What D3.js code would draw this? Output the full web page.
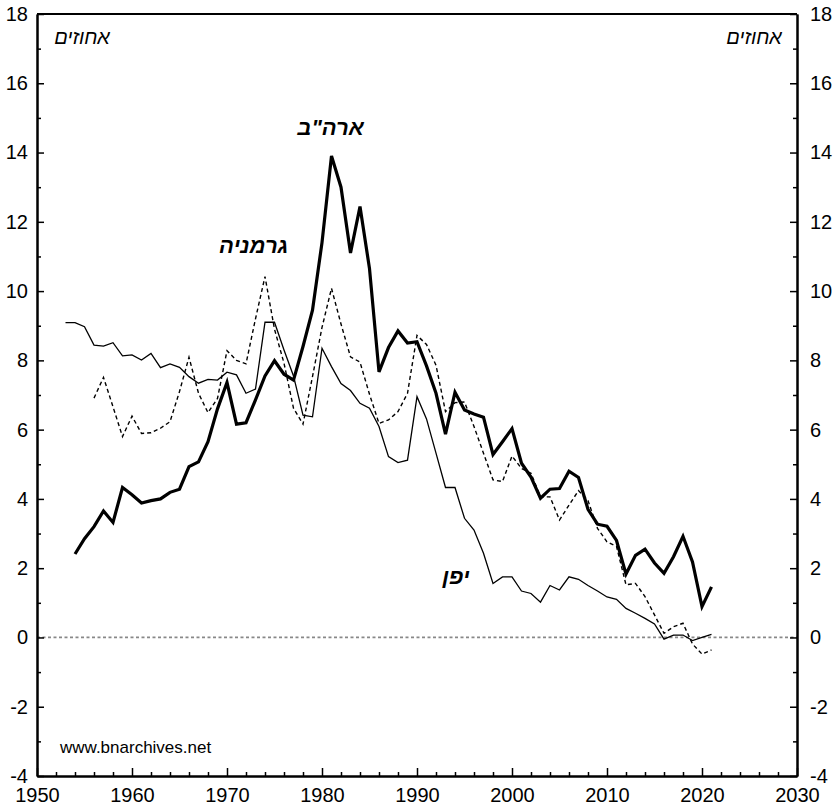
<!DOCTYPE html>
<html>
<head>
<meta charset="utf-8">
<script src="https://cdn.jsdelivr.net/npm/d3@7"></script>
<style>
  body { margin: 0; background: #fff; }
  svg { display: block; font-family: "Liberation Sans", Arial, sans-serif; }
</style>
</head>
<body>
<svg id="chart" width="839" height="811"></svg>
<script>
// series: first year + yearly values (percent)
const usaStart = 1954;
const usaValues = [
  2.41, 2.85, 3.2, 3.65, 3.32, 4.33,
  4.12, 3.88, 3.95, 4.0, 4.19, 4.28, 4.93, 5.07, 5.65, 6.6,
  7.36, 6.16, 6.2, 6.86, 7.55, 7.99, 7.6, 7.43, 8.4, 9.45,
  11.4, 13.9, 13.0, 11.1, 12.44, 10.65, 7.67, 8.37, 8.85, 8.5,
  8.54, 7.84, 7.05, 5.87, 7.08, 6.57, 6.45, 6.36, 5.28, 5.65,
  6.03, 5.03, 4.63, 4.02, 4.28, 4.3, 4.8, 4.62, 3.7, 3.27,
  3.21, 2.8, 1.83, 2.37, 2.55, 2.15, 1.85, 2.33, 2.92, 2.18,
  0.89, 1.46
];

const germanyStart = 1956;
const germanyValues = [
  6.91, 7.51, 6.66, 5.8,
  6.39, 5.89, 5.91, 6.04, 6.23, 7.1, 8.09, 7.05, 6.49, 6.9,
  8.28, 8.0, 7.9, 9.2, 10.42, 8.9, 7.92, 6.62, 6.16, 7.53,
  8.95, 10.08, 9.05, 8.1, 7.95, 7.02, 6.18, 6.28, 6.52, 7.05,
  8.72, 8.46, 7.86, 6.52, 6.78, 6.8, 6.09, 5.32, 4.55, 4.5,
  5.24, 4.88, 4.74, 4.06, 4.06, 3.39, 3.82, 4.24, 3.95, 3.15,
  2.76, 2.63, 1.52, 1.56, 1.18, 0.65, 0.12, 0.31, 0.41, -0.19,
  -0.48, -0.36
];

const japanStart = 1953;
const japanValues = [
  9.09, 9.09, 8.97, 8.44, 8.41, 8.51, 8.13,
  8.16, 8.01, 8.2, 7.79, 7.9, 7.8, 7.53, 7.34, 7.45, 7.43,
  7.66, 7.58, 7.05, 7.17, 9.1, 9.1, 8.3, 7.55, 6.42, 6.37,
  8.35, 7.82, 7.33, 7.13, 6.76, 6.62, 6.09, 5.22, 5.05, 5.12,
  6.95, 6.31, 5.32, 4.33, 4.33, 3.44, 3.1, 2.43, 1.56, 1.75,
  1.75, 1.34, 1.27, 1.02, 1.5, 1.37, 1.75, 1.68, 1.5, 1.34,
  1.17, 1.1, 0.84, 0.7, 0.55, 0.39, -0.05, 0.07, 0.07, -0.09,
  0.0, 0.09
];

const xMajorTicks = [1950, 1960, 1970, 1980, 1990, 2000, 2010, 2020, 2030];
const yMajorTicks = [-4, -2, 0, 2, 4, 6, 8, 10, 12, 14, 16, 18];

const seriesLabels = [
  { text: 'ארה"ב', year: 1980.9, value: 14.5 },
  { text: 'גרמניה', year: 1972.8, value: 11.1 },
  { text: 'יפן', year: 1994.1, value: 1.55 }
];

const svg = d3.select('#chart');

const x = d3.scaleLinear().domain([1950, 2030]).range([37, 797]);
const y = d3.scaleLinear().domain([-4, 18]).range([776, 14]);

const toPoints = (start, vals) => vals.map((v, i) => ({ year: start + i, value: v }));

const line = d3.line()
  .x((d) => x(d.year))
  .y((d) => y(d.value));

// zero reference line
svg.append('line')
  .attr('x1', x(1950)).attr('x2', x(2030))
  .attr('y1', y(0)).attr('y2', y(0))
  .attr('stroke', '#888')
  .attr('stroke-width', 1.8)
  .attr('stroke-dasharray', '3,2.5');

// series lines
svg.append('path')
  .datum(toPoints(japanStart, japanValues))
  .attr('d', line)
  .attr('fill', 'none')
  .attr('stroke', '#000')
  .attr('stroke-width', 1.3);

svg.append('path')
  .datum(toPoints(germanyStart, germanyValues))
  .attr('d', line)
  .attr('fill', 'none')
  .attr('stroke', '#000')
  .attr('stroke-width', 1.4)
  .attr('stroke-dasharray', '4,3');

svg.append('path')
  .datum(toPoints(usaStart, usaValues))
  .attr('d', line)
  .attr('fill', 'none')
  .attr('stroke', '#000')
  .attr('stroke-width', 3.2)
  .attr('stroke-linejoin', 'miter');

// axes
const styleAxis = (g) => {
  g.selectAll('.domain').attr('stroke', '#000').attr('stroke-width', 2);
  g.selectAll('.tick line').attr('stroke', '#000').attr('stroke-width', 1.5);
  g.selectAll('text').attr('font-size', 20).attr('fill', '#000')
    .attr('font-family', '"Liberation Sans", Arial, sans-serif');
};

const plainNum = (d) => String(d);
const xMinor = d3.range(1952, 2030, 2).filter((d) => d % 10 !== 0);
const yMinor = d3.range(-3, 18, 2);

svg.append('g')
  .attr('transform', `translate(0,${y(-4)})`)
  .call(d3.axisBottom(x).tickValues(xMinor).tickSize(-4).tickSizeOuter(0).tickFormat(''))
  .call(styleAxis);
svg.append('g')
  .attr('transform', `translate(0,${y(-4)})`)
  .call(d3.axisBottom(x).tickValues(xMajorTicks).tickSize(-8).tickSizeOuter(0)
    .tickPadding(12).tickFormat(plainNum))
  .call(styleAxis);

svg.append('g')
  .attr('transform', `translate(${x(1950)},0)`)
  .call(d3.axisLeft(y).tickValues(yMinor).tickSize(-4).tickSizeOuter(0).tickFormat(''))
  .call(styleAxis);
svg.append('g')
  .attr('transform', `translate(${x(1950)},0)`)
  .call(d3.axisLeft(y).tickValues(yMajorTicks).tickSize(-7).tickSizeOuter(0)
    .tickPadding(9).tickFormat(plainNum))
  .call(styleAxis);

svg.append('g')
  .attr('transform', `translate(${x(2030)},0)`)
  .call(d3.axisRight(y).tickValues(yMinor).tickSize(-4).tickSizeOuter(0).tickFormat(''))
  .call(styleAxis);
svg.append('g')
  .attr('transform', `translate(${x(2030)},0)`)
  .call(d3.axisRight(y).tickValues(yMajorTicks).tickSize(-7).tickSizeOuter(0)
    .tickPadding(13).tickFormat(plainNum))
  .call(styleAxis);

// top border
svg.append('line')
  .attr('x1', x(1950)).attr('x2', x(2030))
  .attr('y1', y(18)).attr('y2', y(18))
  .attr('stroke', '#000')
  .attr('stroke-width', 2);

// unit labels
svg.append('text')
  .attr('x', 82).attr('y', 44)
  .attr('text-anchor', 'middle')
  .attr('font-size', 20).attr('font-style', 'italic')
  .text('אחוזים');
svg.append('text')
  .attr('x', 754).attr('y', 44)
  .attr('text-anchor', 'middle')
  .attr('font-size', 20).attr('font-style', 'italic')
  .text('אחוזים');

// series labels
svg.selectAll('.series-label')
  .data(seriesLabels)
  .join('text')
  .attr('class', 'series-label')
  .attr('x', (d) => x(d.year))
  .attr('y', (d) => y(d.value))
  .attr('text-anchor', 'middle')
  .attr('font-size', 22)
  .attr('font-weight', 'bold')
  .attr('font-style', 'italic')
  .text((d) => d.text);

// source
svg.append('text')
  .attr('x', 60).attr('y', 753)
  .attr('font-size', 17)
  .text('www.bnarchives.net');
</script>
</body>
</html>
